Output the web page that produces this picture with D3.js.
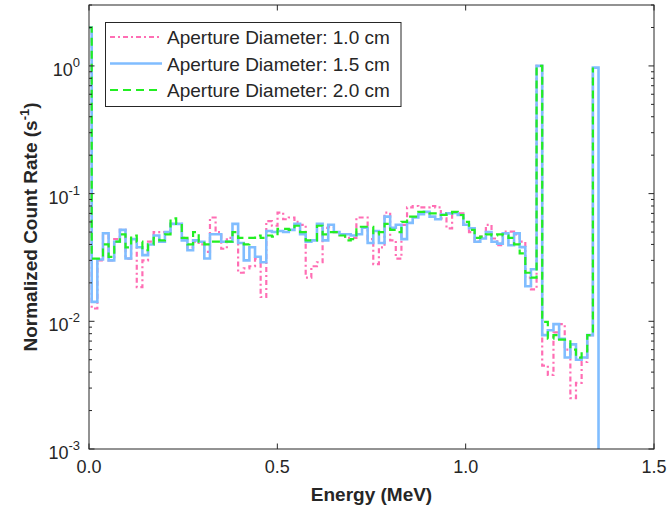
<!DOCTYPE html>
<html>
<head>
<meta charset="utf-8">
<script src="https://cdn.jsdelivr.net/npm/d3@7"></script>
<style>
  html, body { margin: 0; padding: 0; background: #fff; }
  svg { display: block; font-family: "Liberation Sans", Arial, Helvetica, sans-serif; }
</style>
</head>
<body>
<svg id="chart" width="669" height="514"></svg>
<script>
// ---------------- DATA ----------------
const seriesNames = ["Aperture Diameter: 1.0 cm", "Aperture Diameter: 1.5 cm", "Aperture Diameter: 2.0 cm"];
// step edges (MeV): first step starts at 0, then regular bins
const firstEdge = 0.0072;
const binWidth = 0.01495;
const xTicks = [0, 0.5, 1.0, 1.5];
const xTickLabels = ["0.0", "0.5", "1.0", "1.5"];
const yTickExponents = [-3, -2, -1, 0];

const pink = [2.0,
 0.0126,0.030,0.049,0.030,0.044,0.052,0.031,0.043,0.0185,0.030,
 0.042,0.050,0.050,0.050,0.058,0.058,0.045,0.038,0.042,0.040,
 0.035,0.065,0.050,0.037,0.045,0.050,0.024,0.026,0.027,0.031,
 0.0155,0.061,0.056,0.071,0.063,0.065,0.060,0.057,0.022,0.027,
 0.029,0.054,0.055,0.050,0.048,0.045,0.045,0.065,0.065,0.044,
 0.028,0.038,0.071,0.043,0.031,0.057,0.078,0.080,0.078,0.078,
 0.080,0.078,0.064,0.0535,0.0705,0.070,0.057,0.050,0.042,0.046,
 0.057,0.0445,0.0394,0.0503,0.0503,0.048,0.042,0.022,0.0178,1.0,
 0.0045,0.0038,0.0082,0.0095,0.0060,0.0025,0.0033,0.0048,0.0078,0.97];

const blue = [2.0,
 0.0142,0.0305,0.049,0.030,0.042,0.052,0.031,0.044,0.038,0.033,
 0.040,0.047,0.042,0.050,0.058,0.058,0.043,0.036,0.043,0.042,
 0.031,0.048,0.048,0.042,0.042,0.058,0.041,0.030,0.038,0.032,
 0.029,0.051,0.050,0.051,0.050,0.052,0.058,0.048,0.042,0.043,
 0.058,0.043,0.057,0.050,0.048,0.048,0.047,0.048,0.054,0.041,
 0.051,0.041,0.066,0.054,0.057,0.044,0.059,0.065,0.069,0.072,
 0.066,0.063,0.0685,0.070,0.0705,0.068,0.057,0.0535,0.042,0.0445,
 0.050,0.042,0.0406,0.0488,0.0394,0.0488,0.0381,0.0188,0.0256,1.0,
 0.0078,0.0085,0.0095,0.0073,0.0052,0.0066,0.0050,0.0052,0.0078,0.97,0];

const green = [2.0,
 0.031,0.031,0.040,0.032,0.042,0.048,0.038,0.047,0.042,0.036,
 0.040,0.045,0.043,0.048,0.064,0.058,0.045,0.040,0.050,0.042,
 0.040,0.042,0.042,0.042,0.042,0.050,0.045,0.040,0.045,0.047,
 0.045,0.047,0.046,0.053,0.053,0.052,0.056,0.050,0.043,0.043,
 0.056,0.048,0.050,0.050,0.047,0.043,0.044,0.055,0.055,0.055,
 0.048,0.050,0.058,0.052,0.050,0.060,0.066,0.066,0.072,0.072,
 0.070,0.070,0.068,0.070,0.072,0.068,0.060,0.052,0.045,0.046,
 0.048,0.047,0.048,0.047,0.045,0.040,0.034,0.024,0.022,1.0,
 0.0099,0.0073,0.0078,0.0072,0.0072,0.0060,0.0052,0.0058,0.0078,0.97];

// ---------------- LAYOUT ----------------
const W = 669, H = 514;
const m = {left: 89, top: 5, right: 15, bottom: 65};
const svg = d3.select("#chart");
const axisColor = "#262626";

const x = d3.scaleLinear().domain([0, 1.5]).range([m.left, W - m.right]);
const y = d3.scaleLog().domain([1e-3, 3]).range([H - m.bottom, m.top]);

function edgeAt(k) { return k === 0 ? 0 : firstEdge + (k - 1) * binWidth; }

svg.append("defs").append("clipPath").attr("id", "clip")
  .append("rect").attr("x", m.left).attr("y", m.top)
  .attr("width", W - m.left - m.right).attr("height", H - m.top - m.bottom);

const line = d3.line()
  .x(d => x(d.e))
  .y(d => d.v > 0 ? y(d.v) : H - m.bottom + 10)
  .curve(d3.curveStepAfter);

const styles = [
  {data: pink,  color: "#ff6eb4", width: 2.2, dash: "5,3,2,3"},
  {data: blue,  color: "#80bdff", width: 2.6, dash: null},
  {data: green, color: "#22ee22", width: 2.2, dash: "8,5"}
];

const plot = svg.append("g").attr("clip-path", "url(#clip)");
styles.forEach(s => {
  const pts = s.data.map((v, k) => ({e: edgeAt(k), v: v}));
  plot.append("path").attr("d", line(pts))
    .attr("fill", "none").attr("stroke", s.color)
    .attr("stroke-width", s.width)
    .attr("stroke-dasharray", s.dash)
    .attr("stroke-linejoin", "miter");
});

// ---------------- AXES ----------------
const ax = svg.append("g");
ax.append("rect").attr("x", m.left).attr("y", m.top)
  .attr("width", W - m.left - m.right).attr("height", H - m.top - m.bottom)
  .attr("fill", "none").attr("stroke", axisColor).attr("stroke-width", 1);

const majorLen = 5.5, minorLen = 3;
xTicks.forEach((t, i) => {
  const px = x(t);
  ax.append("line").attr("x1", px).attr("x2", px)
    .attr("y1", H - m.bottom).attr("y2", H - m.bottom - majorLen)
    .attr("stroke", axisColor);
  ax.append("line").attr("x1", px).attr("x2", px)
    .attr("y1", m.top).attr("y2", m.top + majorLen)
    .attr("stroke", axisColor);
  ax.append("text").attr("x", px).attr("y", H - m.bottom + 24)
    .attr("text-anchor", "middle").attr("font-size", 18)
    .attr("fill", axisColor).text(xTickLabels[i]);
});

const yMinor = [];
for (let e = -3; e <= 0; e++) {
  for (let d = 1; d <= 9; d++) {
    const v = d * Math.pow(10, e);
    if (v <= 3) yMinor.push({v: v, major: d === 1});
  }
}
yMinor.forEach(t => {
  const py = y(t.v);
  const len = t.major ? majorLen : minorLen;
  ax.append("line").attr("x1", m.left).attr("x2", m.left + len)
    .attr("y1", py).attr("y2", py).attr("stroke", axisColor);
  ax.append("line").attr("x1", W - m.right).attr("x2", W - m.right - len)
    .attr("y1", py).attr("y2", py).attr("stroke", axisColor);
});
yTickExponents.forEach(e => {
  const py = y(Math.pow(10, e));
  const t = ax.append("text").attr("x", m.left - 9).attr("y", py + 10)
    .attr("text-anchor", "end").attr("font-size", 18).attr("fill", axisColor);
  t.append("tspan").text("10");
  t.append("tspan").attr("font-size", 13).attr("dy", -9).text(String(e));
});

svg.append("text").attr("x", (m.left + W - m.right) / 2).attr("y", 501)
  .attr("text-anchor", "middle").attr("font-size", 19).attr("font-weight", "bold")
  .attr("fill", axisColor).text("Energy (MeV)");

const yl = svg.append("text")
  .attr("transform", `translate(37,${(m.top + H - m.bottom) / 2}) rotate(-90)`)
  .attr("text-anchor", "middle").attr("font-size", 19).attr("font-weight", "bold")
  .attr("fill", axisColor);
yl.append("tspan").text("Normalized Count Rate (s");
yl.append("tspan").attr("font-size", 13).attr("dy", -8).text("-1");
yl.append("tspan").attr("dy", 8).text(")");

// ---------------- LEGEND ----------------
const lg = svg.append("g");
lg.append("rect").attr("x", 105.5).attr("y", 22.5).attr("width", 295.5).attr("height", 84)
  .attr("fill", "#fff").attr("stroke", axisColor).attr("stroke-width", 1);
const rowY = [37, 63.5, 90];
styles.forEach((s, i) => {
  lg.append("line").attr("x1", 110).attr("x2", 162)
    .attr("y1", rowY[i]).attr("y2", rowY[i])
    .attr("stroke", s.color).attr("stroke-width", s.width)
    .attr("stroke-dasharray", s.dash);
  lg.append("text").attr("x", 167).attr("y", rowY[i] + 7)
    .attr("font-size", 19).attr("fill", axisColor).text(seriesNames[i]);
});
</script>
</body>
</html>
